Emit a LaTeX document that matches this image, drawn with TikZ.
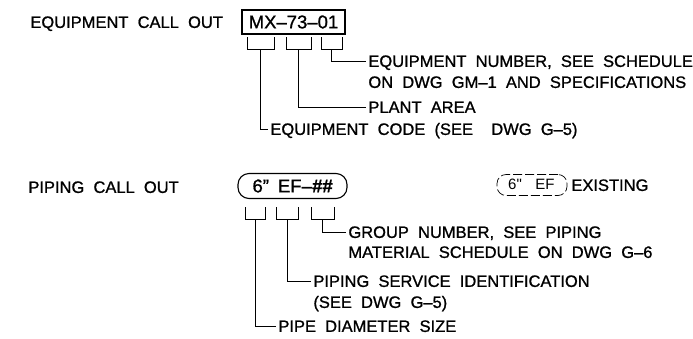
\documentclass[tikz,border=0pt]{standalone}
\usepackage{fontspec}
\setmainfont{Liberation Sans}[WordSpace=2.0,FakeBold=1.0]
\newfontfamily\thinfont{Liberation Sans}
\begin{document}
\begin{tikzpicture}[x=1pt,y=-1pt,line width=0.8pt,
  txt/.style={anchor=west,inner sep=2pt,text height=11.8pt,text depth=0pt,font=\fontsize{16.5}{19}\selectfont},
  callbox/.style={draw,line width=1.3pt,inner sep=0pt,minimum width=103pt,minimum height=24pt,font=\fontsize{18.5}{20}\selectfont},
  pipebox/.style={draw,line width=1.1pt,rounded corners=11pt,inner sep=0pt,minimum width=109pt,minimum height=25pt,font=\fontsize{18.5}{20}\selectfont},
  exbox/.style={draw,line width=0.7pt,dash pattern=on 9pt off 3pt,rounded corners=9pt,inner sep=0pt,minimum width=70pt,minimum height=21pt},
  extxt/.style={inner sep=0pt,font=\thinfont\fontsize{15}{17}\selectfont},
  brk/.style={line width=0.8pt},
  leader/.style={line width=0.8pt}]
\useasboundingbox (0,0) rectangle (693,338);

% ---------- Equipment call out ----------
\node[txt] (eqlbl) at (28,22) {EQUIPMENT CALL OUT};
\node[callbox] (eqbox) at (293.5,22) {MX--73--01};

\draw[brk] (247,37) |- (274,49) -- (274,37);
\draw[brk] (286,37) |- (311,49) -- (311,37);
\draw[brk] (321,37) |- (342,49) -- (342,37);
\coordinate (eb1) at (260.5,49);
\coordinate (eb2) at (298.5,49);
\coordinate (eb3) at (331.5,49);

\node[txt] (eqn1) at (366,61) {EQUIPMENT NUMBER, SEE SCHEDULE};
\node[txt] (eqn2) at (366,82) {ON DWG GM--1 AND SPECIFICATIONS};
\node[txt] (plant) at (366,107) {PLANT AREA};
\node[txt] (eqcode) at (268,129) {EQUIPMENT CODE (SEE\ \ DWG G--5)};

\draw[leader] (eb3) |- (eqn1.west);
\draw[leader] (eb2) |- (plant.west);
\draw[leader] (eb1) |- (eqcode.west);

% ---------- Piping call out ----------
\node[txt] (pplbl) at (26,187) {PIPING CALL OUT};
\node[pipebox] (ppbox) at (292.5,186) {6"\hspace{9pt}EF--\textbf{\textit{\#\#}}};

\draw[brk] (245,207) |- (265,219) -- (265,207);
\draw[brk] (276,207) |- (298,219) -- (298,207);
\draw[brk] (311,207) |- (334,219) -- (334,207);
\coordinate (pb1) at (255,219);
\coordinate (pb2) at (287,219);
\coordinate (pb3) at (322.5,219);

\node[txt] (grp1) at (346,232) {GROUP NUMBER, SEE PIPING};
\node[txt] (grp2) at (346,252) {MATERIAL SCHEDULE ON DWG G--6};
\node[txt] (svc1) at (311,281) {PIPING SERVICE IDENTIFICATION};
\node[txt] (svc2) at (311,302) {(SEE DWG G--5)};
\node[txt] (dia) at (276,326) {PIPE DIAMETER SIZE};

\draw[leader] (pb3) |- (grp1.west);
\draw[leader] (pb2) |- (svc1.west);
\draw[leader] (pb1) |- (dia.west);

% ---------- Existing ----------
\node[exbox] (exbox) at (532,185) {};
\node[extxt] (ex6) at (515,184) {6"};
\node[extxt] (exef) at (545,184) {EF};
\node[txt] (exist) at (569,185) {EXISTING};
\end{tikzpicture}
\end{document}
